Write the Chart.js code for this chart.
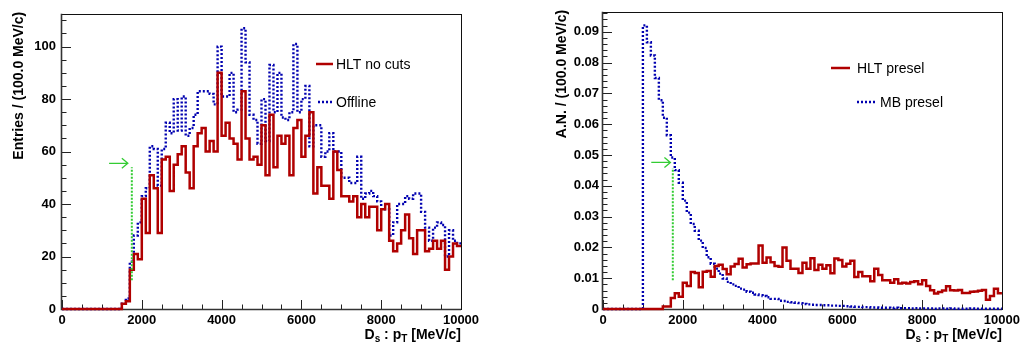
<!DOCTYPE html>
<html>
<head>
<meta charset="utf-8">
<title>Ds pT spectra</title>
<script src="https://cdn.jsdelivr.net/npm/chart.js@4.4.1/dist/chart.umd.min.js"></script>
<style>
  html, body { margin: 0; padding: 0; background: #ffffff; }
  #wrap { position: relative; width: 1024px; height: 349px; overflow: hidden; }
  canvas { position: absolute; top: 0; }
  #cLeft { left: 0; }
  #cRight { left: 512px; }
</style>
</head>
<body>
<div id="wrap">
  <canvas id="cLeft" width="512" height="349"></canvas>
  <canvas id="cRight" width="512" height="349"></canvas>
</div>
<script>
// ---- binning: 100 bins of 100 MeV/c from 0 to 10000 MeV/c ----
const BIN_LO = 0;
const BIN_W = 100;
const N_BINS = 100;
const binEdges = Array.from({ length: N_BINS + 1 }, (_, i) => BIN_LO + i * BIN_W);

// ---- left pad: entries per bin ----
const hltNoCuts = [
  0, 0, 0, 0, 0, 0, 0, 0, 0, 0,
  0, 0, 0, 0, 0, 2, 3, 15, 21, 19,
  42, 29, 51, 46, 29, 57, 58, 45, 55, 59,
  62, 52, 46, 62, 67, 69, 60, 64, 60, 90,
  66, 71, 65, 63, 57, 83, 65, 57, 58, 55,
  70, 51, 74, 54, 66, 63, 66, 51, 69, 72,
  58, 66, 75, 44, 54, 47, 47, 42, 60, 53,
  43, 43, 41, 43, 35, 40, 35, 39, 39, 30,
  38, 40, 26, 22, 25, 30, 36, 27, 21, 30,
  30, 22, 23, 26, 23, 26, 15, 20, 25, 24
];
const offline = [
  0, 0, 0, 0, 0, 0, 0, 0, 0, 0,
  0, 0, 0, 0, 0, 2, 4, 18, 28, 33,
  43, 46, 62, 61, 47, 61, 71, 67, 80, 68,
  81, 66, 69, 74, 83, 83, 83, 82, 78, 100,
  81, 81, 90, 75, 76, 107, 94, 74, 72, 63,
  80, 64, 93, 75, 90, 73, 72, 75, 101, 75,
  80, 85, 62, 70, 70, 58, 60, 67, 60, 60,
  50, 50, 48, 48, 58, 42, 44, 45, 43, 41,
  38, 38, 28, 33, 40, 40, 43, 42, 44, 44,
  37, 31, 26, 31, 33, 32, 20, 30, 26, 25
];

// ---- right pad: area-normalised ----
const hltPresel = [
  0, 0, 0, 0, 0, 0, 0, 0, 0, 0,
  0, 0, 0, 0, 0, 0.0008, 0.0008, 0.0036, 0.0051, 0.0040,
  0.0085, 0.0075, 0.0120, 0.0117, 0.0071, 0.0121, 0.0123, 0.0105, 0.0140, 0.0144,
  0.0130, 0.0113, 0.0138, 0.0146, 0.0163, 0.0135, 0.0145, 0.0148, 0.0148, 0.0206,
  0.0150, 0.0167, 0.0152, 0.0140, 0.0137, 0.0200, 0.0157, 0.0131, 0.0131, 0.0117,
  0.0150, 0.0131, 0.0165, 0.0127, 0.0144, 0.0131, 0.0142, 0.0116, 0.0164, 0.0159,
  0.0138, 0.0147, 0.0157, 0.0104, 0.0120, 0.0106, 0.0106, 0.0090, 0.0131, 0.0110,
  0.0093, 0.0093, 0.0085, 0.0097, 0.0083, 0.0085, 0.0083, 0.0088, 0.0090, 0.0080,
  0.0093, 0.0075, 0.0061, 0.0050, 0.0055, 0.0060, 0.0074, 0.0061, 0.0060, 0.0062,
  0.0052, 0.0052, 0.0056, 0.0057, 0.0059, 0.0062, 0.0030, 0.0042, 0.0066, 0.0051
];
const mbPresel = [
  0, 0, 0, 0, 0, 0, 0, 0, 0, 0,
  0.0921, 0.0866, 0.0823, 0.0750, 0.0678, 0.0621, 0.0564, 0.0492, 0.0451, 0.0410,
  0.0352, 0.0313, 0.0276, 0.0254, 0.0222, 0.0198, 0.0168, 0.0147, 0.0131, 0.0115,
  0.0099, 0.0088, 0.0080, 0.0075, 0.0066, 0.0063, 0.0056, 0.0053, 0.0047, 0.0045,
  0.0042, 0.0038, 0.0033, 0.0033, 0.0027, 0.0026, 0.0023, 0.0022, 0.0020, 0.0019,
  0.0016, 0.0015, 0.0014, 0.0013, 0.0013, 0.0012, 0.0012, 0.0011, 0.0011, 0.0010,
  0.0010, 0.0009, 0.0008, 0.0007, 0.0007, 0.0006, 0.0006, 0.0005, 0.0005, 0.0004,
  0.0004, 0.0004, 0.0003, 0.0004, 0.0003, 0.0003, 0.0003, 0.0002, 0.0003, 0.0002,
  0.0002, 0.0002, 0.0002, 0.0001, 0.0002, 0.0002, 0.0001, 0.0002, 0.0001, 0.0001,
  0.0001, 0.0001, 0.0002, 0.0001, 0.0001, 0.0001, 0.0001, 0.0001, 0.0001, 0.0001
];

// ---- tick labels ----
const xTickLabels = ['0', '2000', '4000', '6000', '8000', '10000'];
const yTickLabelsLeft = ['0', '20', '40', '60', '80', '100'];
const yTickLabelsRight = ['0', '0.01', '0.02', '0.03', '0.04', '0.05', '0.06', '0.07', '0.08', '0.09'];

// ---- trigger threshold marker (cut at 1750 MeV/c) ----
const CUT_PT = 1750;
const cutLeft = { x: CUT_PT, yLow: 11, yHigh: 54, arrowFrom: 1180, arrowTo: 1650, arrowY: 55.5 };
const cutRight = { x: CUT_PT, yLow: 0.0093, yHigh: 0.0458, arrowFrom: 1210, arrowTo: 1690, arrowY: 0.0476 };

const FONT = "'Liberation Sans', Arial, Helvetica, sans-serif";
const RED = '#b00000';
const BLUE = '#0000b0';
const GREEN = '#33cc33';

function stepPoints(values) {
  const pts = values.map((v, i) => ({ x: binEdges[i], y: v }));
  pts.push({ x: binEdges[N_BINS], y: values[values.length - 1] });
  return pts;
}

// ROOT-like frame, inward tick marks, axis titles, legend and cut marker
const rootStyle = {
  id: 'rootStyle',
  beforeDatasetsDraw(chart, args, o) {
    const { ctx, chartArea: a } = chart;
    const xs = chart.scales.x, ys = chart.scales.y;
    ctx.save();
    ctx.lineWidth = 1;
    ctx.strokeStyle = '#222';
    // x ticks
    const xMinorN = Math.round((xs.max - xs.min) / o.xMinor);
    const xRatio = Math.round(o.xMajor / o.xMinor);
    ctx.beginPath();
    for (let k = 0; k <= xMinorN; k++) {
      const px = Math.round(xs.getPixelForValue(xs.min + k * o.xMinor)) + 0.5;
      const len = (k % xRatio === 0) ? 9 : 4.5;
      ctx.moveTo(px, a.bottom);
      ctx.lineTo(px, a.bottom - len);
    }
    // y ticks
    const yMinorN = Math.floor((ys.max - ys.min) / o.yMinor + 1e-6);
    const yRatio = Math.round(o.yMajor / o.yMinor);
    for (let k = 0; k <= yMinorN; k++) {
      const py = Math.round(ys.getPixelForValue(ys.min + k * o.yMinor)) + 0.5;
      const len = (k % yRatio === 0) ? 9 : 4.5;
      ctx.moveTo(a.left, py);
      ctx.lineTo(a.left + len, py);
    }
    ctx.stroke();
    // frame
    ctx.strokeStyle = '#111';
    ctx.strokeRect(Math.round(a.left) - 0.5, Math.round(a.top) + 0.5,
                   Math.round(a.right - a.left) + 1, Math.round(a.bottom - a.top));
    ctx.lineWidth = 1.6;
    ctx.strokeStyle = '#333';
    ctx.beginPath();
    ctx.moveTo(a.left - 0.5, a.top);
    ctx.lineTo(a.left - 0.5, a.bottom + 0.5);
    ctx.lineTo(a.right, a.bottom + 0.5);
    ctx.stroke();
    ctx.restore();
  },
  afterDatasetsDraw(chart, args, o) {
    const { ctx, chartArea: a } = chart;
    const xs = chart.scales.x, ys = chart.scales.y;
    ctx.save();
    // cut marker: dotted vertical line and arrow
    const c = o.cut;
    const cx = xs.getPixelForValue(c.x);
    ctx.strokeStyle = GREEN;
    ctx.lineWidth = 2;
    ctx.setLineDash([2, 1.5]);
    ctx.beginPath();
    ctx.moveTo(cx, ys.getPixelForValue(c.yLow));
    ctx.lineTo(cx, ys.getPixelForValue(c.yHigh));
    ctx.stroke();
    ctx.setLineDash([]);
    ctx.lineWidth = 1.3;
    const ay = ys.getPixelForValue(c.arrowY);
    const ax0 = xs.getPixelForValue(c.arrowFrom);
    const ax1 = xs.getPixelForValue(c.arrowTo);
    ctx.beginPath();
    ctx.moveTo(ax0, ay);
    ctx.lineTo(ax1, ay);
    ctx.moveTo(ax1 - 6, ay - 5);
    ctx.lineTo(ax1, ay);
    ctx.lineTo(ax1 - 6, ay + 5);
    ctx.stroke();

    // legend
    ctx.font = '14px ' + FONT;
    ctx.textBaseline = 'middle';
    ctx.textAlign = 'left';
    for (const it of o.legend) {
      ctx.strokeStyle = it.color;
      ctx.lineWidth = it.width;
      ctx.setLineDash(it.dash || []);
      ctx.beginPath();
      ctx.moveTo(it.x0, it.y);
      ctx.lineTo(it.x1, it.y);
      ctx.stroke();
      ctx.setLineDash([]);
      ctx.fillStyle = '#000';
      ctx.fillText(it.label, it.tx, it.y + 1);
    }

    // x title with subscripts, right-aligned to the axis end
    const big = 'bold 14px ' + FONT, small = 'bold 10px ' + FONT;
    const parts = [
      { t: 'D', sub: false }, { t: 's', sub: true }, { t: ' : p', sub: false },
      { t: 'T', sub: true }, { t: ' [MeV/c]', sub: false }
    ];
    let total = 0;
    for (const p of parts) { ctx.font = p.sub ? small : big; p.w = ctx.measureText(p.t).width; total += p.w; }
    let x = a.right - total;
    ctx.textBaseline = 'alphabetic';
    ctx.fillStyle = '#000';
    for (const p of parts) {
      ctx.font = p.sub ? small : big;
      ctx.fillText(p.t, x, p.sub ? 342 : 339);
      x += p.w;
    }

    // y title, rotated, ending at the top of the axis
    ctx.save();
    ctx.translate(o.yTitleX, a.top - 2);
    ctx.rotate(-Math.PI / 2);
    ctx.font = big;
    ctx.textAlign = 'right';
    ctx.fillText(o.yTitle, 0, 0);
    ctx.restore();
    ctx.restore();
  }
};

function makePad(canvasId, p) {
  const tickFont = { family: FONT, size: 13, weight: 'bold' };
  return new Chart(document.getElementById(canvasId), {
    type: 'line',
    data: {
      datasets: [
        { label: p.redLabel, data: stepPoints(p.red), stepped: true, borderColor: RED,
          borderWidth: 2.5, pointRadius: 0, fill: false, clip: 4 },
        { label: p.blueLabel, data: stepPoints(p.blue), stepped: true, borderColor: BLUE,
          borderWidth: 2.4, borderDash: [2, 2], pointRadius: 0, fill: false, clip: 4 }
      ]
    },
    options: {
      responsive: false,
      animation: false,
      devicePixelRatio: 1,
      layout: { padding: { left: 0, right: p.padRight, top: 9, bottom: 0 } },
      plugins: {
        legend: { display: false },
        tooltip: { enabled: false },
        rootStyle: {
          xMajor: 2000, xMinor: 500, yMajor: p.yStep, yMinor: p.yMinor,
          cut: p.cut, legend: p.legend, yTitle: p.yTitle, yTitleX: p.yTitleX
        }
      },
      scales: {
        x: {
          type: 'linear', min: 0, max: 10000,
          grid: { display: false, drawTicks: false }, border: { display: false },
          ticks: {
            stepSize: 2000, autoSkip: false, maxRotation: 0, padding: 4,
            color: '#000', font: tickFont,
            callback: (v) => xTickLabels[Math.round(v / 2000)] ?? ''
          },
          afterFit: (s) => { s.height = 40; }
        },
        y: {
          type: 'linear', min: 0, max: p.yMax,
          grid: { display: false, drawTicks: false }, border: { display: false },
          ticks: {
            stepSize: p.yStep, includeBounds: false, autoSkip: false, padding: p.yPad,
            color: '#000', font: tickFont,
            callback: (v) => p.yLabels[Math.round(v / p.yStep)] ?? ''
          },
          afterFit: (s) => { s.width = p.yWidth; }
        }
      }
    },
    plugins: [rootStyle]
  });
}

makePad('cLeft', {
  red: hltNoCuts, blue: offline, redLabel: 'HLT no cuts', blueLabel: 'Offline',
  yMax: 112.5, yStep: 20, yMinor: 5, yLabels: yTickLabelsLeft,
  yWidth: 62, padRight: 51, yPad: 6,
  yTitle: 'Entries / (100.0 MeV/c)', yTitleX: 23,
  cut: cutLeft,
  legend: [
    { label: 'HLT no cuts', color: RED, width: 2.5, x0: 316, x1: 333, y: 64, tx: 336 },
    { label: 'Offline', color: BLUE, width: 2.4, dash: [2, 2], x0: 318, x1: 333, y: 102, tx: 336 }
  ]
});

makePad('cRight', {
  red: hltPresel, blue: mbPresel, redLabel: 'HLT presel', blueLabel: 'MB presel',
  yMax: 0.0965, yStep: 0.01, yMinor: 0.002, yLabels: yTickLabelsRight,
  yWidth: 91, padRight: 21, yPad: 4,
  yTitle: 'A.N. / (100.0 MeV/c)', yTitleX: 54,
  cut: cutRight,
  legend: [
    { label: 'HLT presel', color: RED, width: 2.5, x0: 319, x1: 338, y: 68, tx: 345 },
    { label: 'MB presel', color: BLUE, width: 2.4, dash: [2, 2], x0: 345, x1: 364, y: 102, tx: 368 }
  ]
});
</script>
</body>
</html>
